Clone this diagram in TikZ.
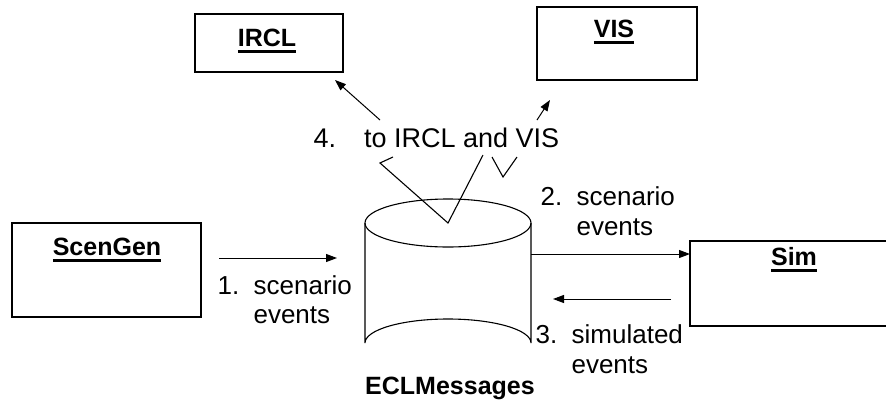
\documentclass[tikz,border=0pt]{standalone}
\usepackage{fontspec}
\setmainfont{Liberation Sans}
\usetikzlibrary{arrows.meta}
\newcommand\thickul[1]{\setbox0\hbox{#1}\rlap{\rule[-6.5pt]{\wd0}{2.2pt}}\box0}
\begin{document}
\begin{tikzpicture}[x=1pt,y=-1pt,
  line width=1.1pt,
  box/.style={draw, line width=1.1pt},
  lbl/.style={font=\fontsize{26}{30}\selectfont, inner sep=0pt, anchor=base west},
  title/.style={font=\fontsize{25}{30}\selectfont\bfseries, inner sep=0pt, anchor=base},
  arr/.style={-{Triangle[length=11pt,width=8pt]}, line width=1pt}]
\useasboundingbox (0,0) rectangle (886,405);
% boxes
\draw[box] (195,14) rectangle (343,72);
\draw[box] (537,7) rectangle (697,80);
\draw[box] (12,223) rectangle (201,317);
\draw[box] (690,241) rectangle (900,326);
\node[title] (ircl) at (267,46) {\thickul{IRCL}};
\node[title] (vis) at (614,37) {\thickul{VIS}};
\node[title] (scengen) at (107,255) {\thickul{ScenGen}};
\node[title] (sim) at (794,265) {\thickul{Sim}};
% cylinder
\draw (448,223) ellipse [x radius=83, y radius=24];
\draw (365,223) -- (365,343) arc[start angle=180, end angle=360, x radius=83, y radius=24] -- (531,223);
\node[title] (ecl) at (450,394) {ECLMessages};
% arrows
\coordinate (a1s) at (219,258); \coordinate (a1e) at (337,258);
\draw[arr] (a1s) -- (a1e);
\coordinate (a2s) at (531,254); \coordinate (a2e) at (690,254);
\draw[arr] (a2s) -- (a2e);
\coordinate (a3s) at (671,299); \coordinate (a3e) at (553,299);
\draw[arr] (a3s) -- (a3e);
\coordinate (a4s) at (380,120); \coordinate (a4e) at (335,80);
\draw[arr] (a4s) -- (a4e);
\coordinate (a5s) at (537,120); \coordinate (a5e) at (550,100);
\draw[arr] (a5s) -- (a5e);
% callout
\draw (393,157) -- (380,163) -- (448,223) -- (483,155);
\draw (492,157) -- (503,177) -- (517,157);
% labels
\node[lbl, font=\fontsize{27}{31}\selectfont] (l4) at (313,147) {4.\hspace{28pt}to IRCL and VIS};
\node[lbl] (l1a) at (217,294) {1.\ \ scenario};
\node[lbl] (l1b) at (253,323) {events};
\node[lbl] (l2a) at (540,205) {2.\ \ scenario};
\node[lbl] (l2b) at (576,235) {events};
\node[lbl] (l3a) at (535,343) {3.\ \ simulated};
\node[lbl] (l3b) at (571,373) {events};
\end{tikzpicture}
\end{document}
